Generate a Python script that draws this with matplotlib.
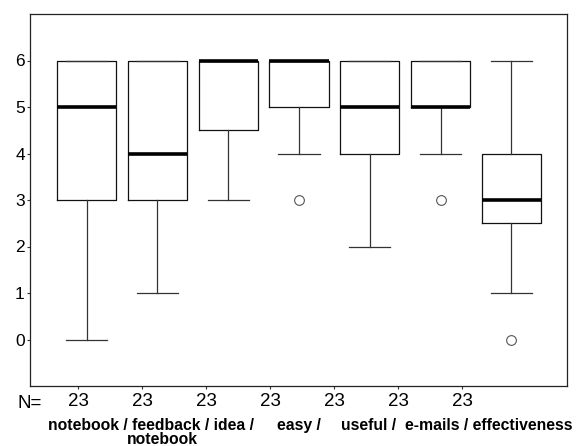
import matplotlib
matplotlib.use("Agg")
import matplotlib.pyplot as plt

plt.rcParams['font.family'] = ['Liberation Sans', 'DejaVu Sans']

# --- data ---
categories = ["notebook", "feedback", "idea", "easy", "useful", "e-mails", "effectiveness"]
q1 = [3, 3, 4.5, 5, 4, 5, 2.5]
medians = [5, 4, 6, 6, 5, 5, 3]
q3 = [6, 6, 6, 6, 6, 6, 4]
whislo = [0, 1, 3, 4, 2, 4, 1]
whishi = [6, 6, 6, 6, 6, 6, 6]
outliers = [[], [], [], [3], [], [3], [0]]
n_counts = [23, 23, 23, 23, 23, 23, 23]
yticks = [0, 1, 2, 3, 4, 5, 6]

fig = plt.figure(figsize=(5.8, 4.46), dpi=100)
ax = fig.add_axes([30/580, 1-386/446, (567-30)/580, (386-14)/446])

stats = []
for i in range(len(categories)):
    stats.append(dict(med=medians[i], q1=q1[i], q3=q3[i],
                      whislo=whislo[i], whishi=whishi[i], fliers=outliers[i],
                      label=categories[i]))

positions = list(range(1, len(categories) + 1))
ax.bxp(stats, positions=positions, widths=0.833, capwidths=0.58,
       showfliers=True, patch_artist=False,
       boxprops=dict(color='#111111', linewidth=0.9),
       medianprops=dict(color='black', linewidth=2.6, solid_capstyle='butt'),
       whiskerprops=dict(color='#333333', linewidth=0.9),
       capprops=dict(color='#333333', linewidth=0.9),
       flierprops=dict(marker='o', markersize=7, markerfacecolor='white',
                       markeredgecolor='#555555', markeredgewidth=0.8))

ax.set_xlim(0.2023, 7.7836)
ax.set_ylim(-1, 7)
ax.set_yticks(yticks)
ax.set_yticklabels([str(v) for v in yticks], fontsize=12.5)
ax.tick_params(axis='y', length=2.2, width=0.8, pad=1.5, color='#333333')

# N= row: ticks in SPSS positions (offset from boxes)
tick_px = [78, 142, 206, 270, 334, 398, 462]
tick_pos = [0.2023 + (p - 30) / 70.83 for p in tick_px]
ax.set_xticks(tick_pos)
ax.set_xticklabels([str(n) for n in n_counts], fontsize=13.5)
ax.tick_params(axis='x', length=2.2, width=0.8, pad=3, color='#333333')

for sp in ax.spines.values():
    sp.set_linewidth(0.9)
    sp.set_color('#222222')

fig.text(30/580, 1-408/446, "N=", fontsize=13.5, ha='center', va='baseline')

# category labels (overlapping SPSS-style)
lab_kw = dict(fontsize=11.3, fontweight='bold', va='baseline')
y1 = 1 - 430/446
fig.text(48/580, y1, "notebook / feedback / idea /", ha='left', **lab_kw)
fig.text(277/580, y1, "easy /", ha='left', **lab_kw)
fig.text(341/580, y1, "useful /", ha='left', **lab_kw)
fig.text(405/580, y1, "e-mails / effectiveness", ha='left', **lab_kw)
fig.text(162/580, 1 - 444/446, "notebook", ha='center', **lab_kw)

fig.savefig("out.png", dpi=100)
